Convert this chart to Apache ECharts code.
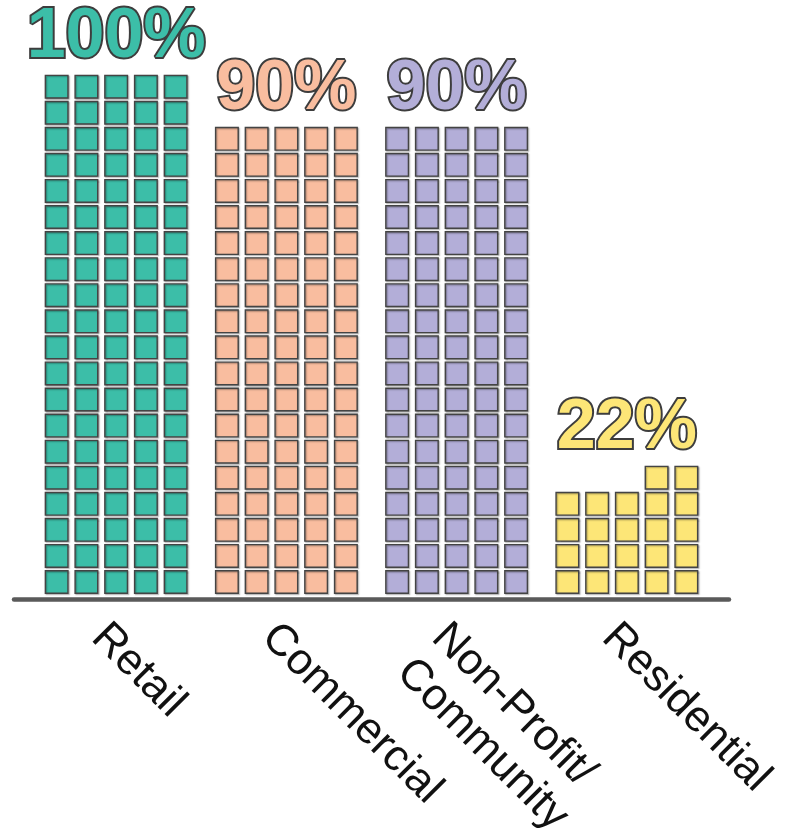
<!DOCTYPE html>
<html><head><meta charset="utf-8">
<script src="https://cdn.jsdelivr.net/npm/echarts@6/dist/echarts.min.js"></script>
<style>html,body{margin:0;padding:0;background:#fff}#c{width:785px;height:838px}</style>
</head><body><div id="c"></div>
<script>
// ---- data ----
const categories = ['Retail', 'Commercial', 'Non-Profit/\nCommunity', 'Residential'];
const squares = [100, 90, 90, 22];           // one square = 1%
const categoryIndex = [0, 1, 2, 3];
const colors = ['#3cbea8', '#f9bd9f', '#b3aed8', '#fde677'];

const COLS = 5;
const chart = echarts.init(document.getElementById('c'), null, {renderer: 'canvas'});

const option = {
  animation: false,
  grid: {left: 14, right: 56, bottom: 838 - 599, top: 599 - 22 * 26.07,
         containLabel: false, outerBoundsMode: 'none'},
  xAxis: {
    type: 'value', min: -0.6, max: 3.6,
    splitLine: {show: false},
    axisTick: {show: false},
    axisLine: {show: true, lineStyle: {color: '#5a5a5a', width: 4.5}},
    axisLabel: {
      customValues: categoryIndex,
      formatter: v => categories[v],
      rotate: -45, fontSize: 44, color: '#111', fontFamily: 'Liberation Sans',
      verticalAlign: 'top',
      margin: 14, lineHeight: 50
    }
  },
  yAxis: {type: 'value', min: 0, max: 22, show: false},
  series: [{
    type: 'custom',
    clip: false,
    data: squares.map((n, i) => [categoryIndex[i], n]),
    renderItem: function (params, api) {
      const idx = api.value(0), n = api.value(1);
      const center = api.coord([idx, 0]);
      const unitX = api.size([1, 0])[0];
      const unitY = api.size([0, 1])[1];
      const pitchX = unitX * 0.1747;
      const sq = unitY * 0.867;
      const children = [];
      for (let i = 0; i < n; i++) {
        const row = Math.floor(i / COLS);
        const col = COLS - 1 - (i % COLS);
        const x = center[0] + (col - 2) * pitchX - sq / 2;
        const yTop = api.coord([idx, row + 1.086])[1];
        children.push({
          type: 'rect',
          shape: {x: x, y: yTop, width: sq, height: sq},
          style: {
            fill: colors[idx], stroke: '#444', lineWidth: 1.4,
            shadowColor: 'rgba(0,0,0,0.35)', shadowBlur: 1.5, shadowOffsetX: 1, shadowOffsetY: 1
          }
        });
      }
      const rows = Math.ceil(n / COLS);
      const topY = api.coord([idx, rows + 0.086])[1];
      children.push({
        type: 'text',
        style: {
          text: n + '%', x: center[0], y: topY - 38,
          align: 'center', verticalAlign: 'middle',
          font: 'bold 70px "Liberation Sans", Arial, sans-serif',
          fill: colors[idx], stroke: '#3d3d3d', lineWidth: 4
        }
      });
      return {type: 'group', children: children};
    }
  }]
};
chart.setOption(option);
</script>
</body></html>
